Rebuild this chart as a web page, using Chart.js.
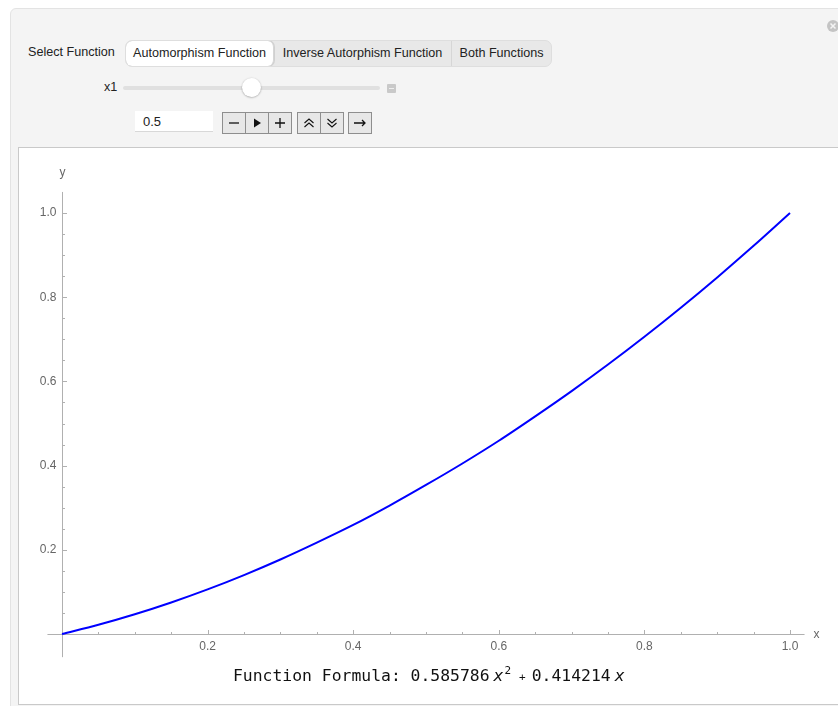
<!DOCTYPE html>
<html>
<head>
<meta charset="utf-8">
<script src="https://cdn.jsdelivr.net/npm/chart.js@4/dist/chart.umd.min.js"></script>
<style>
  body { margin: 0; width: 838px; height: 706px; overflow: hidden; background: #fff; position: relative;
         font-family: "Liberation Sans", Arial, sans-serif; font-size: 12.6px; color: #222; }
  #panel { position: absolute; left: 10px; top: 8px; width: 860px; height: 720px; background: #f4f4f4;
           border: 1px solid #e3e3e3; border-radius: 6px; }
  .abs { position: absolute; }
  #seg { left: 125px; top: 40px; width: 425px; height: 25px; background: #e8e8e8; border: 1px solid #dedede;
         border-radius: 7px; display: flex; overflow: hidden; }
  #seg div { line-height: 25px; text-align: center; border-right: 1px solid #d6d6d6; white-space: nowrap; box-sizing: border-box; }
  #seg div:last-child { border-right: none; }
  #seg .on { background: #fff; border-radius: 6px; box-shadow: 0 0 0 1px #d0d0d0; }
  #track { left: 123px; top: 86px; width: 257px; height: 4px; background: #e0e0e0; border-radius: 2px; }
  #thumb { left: 242px; top: 78px; width: 19px; height: 19px; background: #fff; border-radius: 50%;
           box-shadow: 0 0.5px 2px rgba(0,0,0,0.35); }
  #mini { left: 387px; top: 84px; width: 9px; height: 9px; background: #c9c9c9; border-radius: 1px; }
  #mini:after { content: ""; position: absolute; left: 2px; top: 4px; width: 5px; height: 1px; background: #eee; }
  #field { left: 135px; top: 111px; width: 78px; height: 21px; background: #fff; border-bottom: 1px solid #d8d8d8;
           font-size: 13px; line-height: 22px; padding-left: 8px; box-sizing: border-box; }
  .grp { top: 112px; height: 20px; display: flex; border: 1px solid #8e8e8e; background: #e7e7e7; }
  .grp div { width: 22px; height: 20px; border-right: 1px solid #8e8e8e; display: flex; align-items: center; justify-content: center; }
  .grp div:last-child { border-right: none; }
  #frame { left: 18px; top: 147px; width: 840px; height: 556px; background: #fff; border: 1px solid #c9c9c9; }
  #chart { position: absolute; left: 0; top: 0; }
  #formula { left: 233px; top: 666px; font-family: "DejaVu Sans Mono", "Liberation Mono", monospace;
             font-size: 16.4px; color: #111; white-space: nowrap; }
  #formula i { font-style: italic; margin-left: 4px; }
  #formula sup { font-size: 11px; vertical-align: 7px; line-height: 0; margin-left: 1px; }
  #formula .pl { font-size: 11px; margin: 0 6px 0 8px; }
</style>
</head>
<body>
<div id="panel"></div>
<svg class="abs" style="left:826px;top:19px" width="14" height="14">
  <circle cx="7" cy="7" r="6" fill="#c4c4c4"/>
  <path d="M4.5 4.5 L9.5 9.5 M9.5 4.5 L4.5 9.5" stroke="#f4f4f4" stroke-width="1.5"/>
</svg>
<div class="abs" style="left:28px;top:45px">Select Function</div>
<div class="abs" id="seg">
  <div class="on" style="width:148px">Automorphism Function</div>
  <div style="width:178px">Inverse Autorphism Function</div>
  <div style="width:99px">Both Functions</div>
</div>
<div class="abs" style="left:104px;top:80px">x1</div>
<div class="abs" id="track"></div>
<div class="abs" id="thumb"></div>
<div class="abs" id="mini"></div>
<div class="abs" id="field">0.5</div>
<div class="abs grp" style="left:222px">
  <div><svg width="12" height="12"><path d="M1 6 H11" stroke="#111" stroke-width="1.3"/></svg></div>
  <div><svg width="12" height="12"><path d="M3 1.5 L10 6 L3 10.5 Z" fill="#111"/></svg></div>
  <div><svg width="12" height="12"><path d="M1 6 H11 M6 1 V11" stroke="#111" stroke-width="1.3"/></svg></div>
</div>
<div class="abs grp" style="left:297px">
  <div><svg width="12" height="12"><path d="M1.5 6 L6 2 L10.5 6 M1.5 10 L6 6 L10.5 10" stroke="#111" fill="none" stroke-width="1.1"/></svg></div>
  <div><svg width="12" height="12"><path d="M1.5 2 L6 6 L10.5 2 M1.5 6 L6 10 L10.5 6" stroke="#111" fill="none" stroke-width="1.1"/></svg></div>
</div>
<div class="abs grp" style="left:348px">
  <div><svg width="14" height="12"><path d="M1 6 H12 M9 3 L12 6 L9 9" stroke="#111" fill="none" stroke-width="1.3"/></svg></div>
</div>
<div class="abs" id="frame">
  <canvas id="chart" width="819" height="520"></canvas>
</div>
<div class="abs" id="formula">Function Formula: 0.585786<i>x</i><sup>2</sup><span class="pl">+</span>0.414214<i>x</i></div>

<script>
const xValues = [0, 0.05, 0.1, 0.15, 0.2, 0.25, 0.3, 0.35, 0.4, 0.45, 0.5,
                 0.55, 0.6, 0.65, 0.7, 0.75, 0.8, 0.85, 0.9, 0.95, 1.0]
const yValues = [0, 0.022, 0.047, 0.075, 0.106, 0.140, 0.177, 0.217, 0.259, 0.305, 0.354,
                 0.405, 0.459, 0.517, 0.577, 0.640, 0.706, 0.775, 0.847, 0.922, 1.0]
const xTicks = [0.2, 0.4, 0.6, 0.8, 1.0]
const xTickLabels = ["0.2", "0.4", "0.6", "0.8", "1.0"]
const yTicks = [0.2, 0.4, 0.6, 0.8, 1.0]
const yTickLabels = ["0.2", "0.4", "0.6", "0.8", "1.0"]
const xMinor = [0.05, 0.1, 0.15, 0.25, 0.3, 0.35, 0.45, 0.5, 0.55, 0.65, 0.7, 0.75, 0.85, 0.9, 0.95]
const yMinor = [0.05, 0.1, 0.15, 0.25, 0.3, 0.35, 0.45, 0.5, 0.55, 0.65, 0.7, 0.75, 0.85, 0.9, 0.95]

const graph = document.getElementById("chart")

// Mathematica style axes crossing at the origin, ticks pointing inward
const axesPlugin = {
  id: "mmaAxes",
  beforeDatasetsDraw(chart) {
    const ctx = chart.ctx
    const area = chart.chartArea
    const sx = chart.scales.x, sy = chart.scales.y
    const x0 = Math.round(sx.getPixelForValue(0)) + 0.5
    const y0 = Math.round(sy.getPixelForValue(0)) + 0.5
    ctx.save()
    ctx.strokeStyle = "#b0b0b0"
    ctx.lineWidth = 1
    ctx.beginPath()
    ctx.moveTo(area.left, y0); ctx.lineTo(area.right, y0)
    ctx.moveTo(x0, area.top); ctx.lineTo(x0, area.bottom)
    for (const v of xTicks) { const p = Math.round(sx.getPixelForValue(v)) + 0.5; ctx.moveTo(p, y0); ctx.lineTo(p, y0 - 4.5) }
    for (const v of xMinor) { const p = Math.round(sx.getPixelForValue(v)) + 0.5; ctx.moveTo(p, y0); ctx.lineTo(p, y0 - 2.5) }
    for (const v of yTicks) { const p = Math.round(sy.getPixelForValue(v)) + 0.5; ctx.moveTo(x0, p); ctx.lineTo(x0 + 4.5, p) }
    for (const v of yMinor) { const p = Math.round(sy.getPixelForValue(v)) + 0.5; ctx.moveTo(x0, p); ctx.lineTo(x0 + 2.5, p) }
    ctx.stroke()
    ctx.fillStyle = "#666"
    ctx.font = '12px "Liberation Sans", Arial, sans-serif'
    ctx.textAlign = "center"
    ctx.textBaseline = "middle"
    xTicks.forEach((v, i) => ctx.fillText(xTickLabels[i], sx.getPixelForValue(v), y0 + 12))
    ctx.textAlign = "right"
    yTicks.forEach((v, i) => ctx.fillText(yTickLabels[i], x0 - 6, sy.getPixelForValue(v)))
    ctx.textAlign = "left"
    ctx.fillText("x", area.right + 9, y0)
    ctx.textAlign = "center"
    ctx.fillText("y", x0, area.top - 19)
    ctx.restore()
  }
}

new Chart(graph, {
  type: "line",
  data: {
    datasets: [{
      data: xValues.map((v, i) => ({x: v, y: yValues[i]})),
      borderColor: "#0000ff",
      borderWidth: 2,
      pointRadius: 0,
      fill: false,
      cubicInterpolationMode: "monotone"
    }]
  },
  options: {
    responsive: false,
    animation: false,
    devicePixelRatio: 1,
    layout: { padding: { left: 28.44, right: 33.44, top: 43.95, bottom: 10.84 } },
    scales: {
      x: { type: "linear", min: -0.02, max: 1.02, display: false },
      y: { type: "linear", min: -0.055, max: 1.05, display: false }
    },
    plugins: {
      legend: { display: false },
      tooltip: { enabled: false }
    }
  },
  plugins: [axesPlugin]
})
</script>
</body>
</html>
